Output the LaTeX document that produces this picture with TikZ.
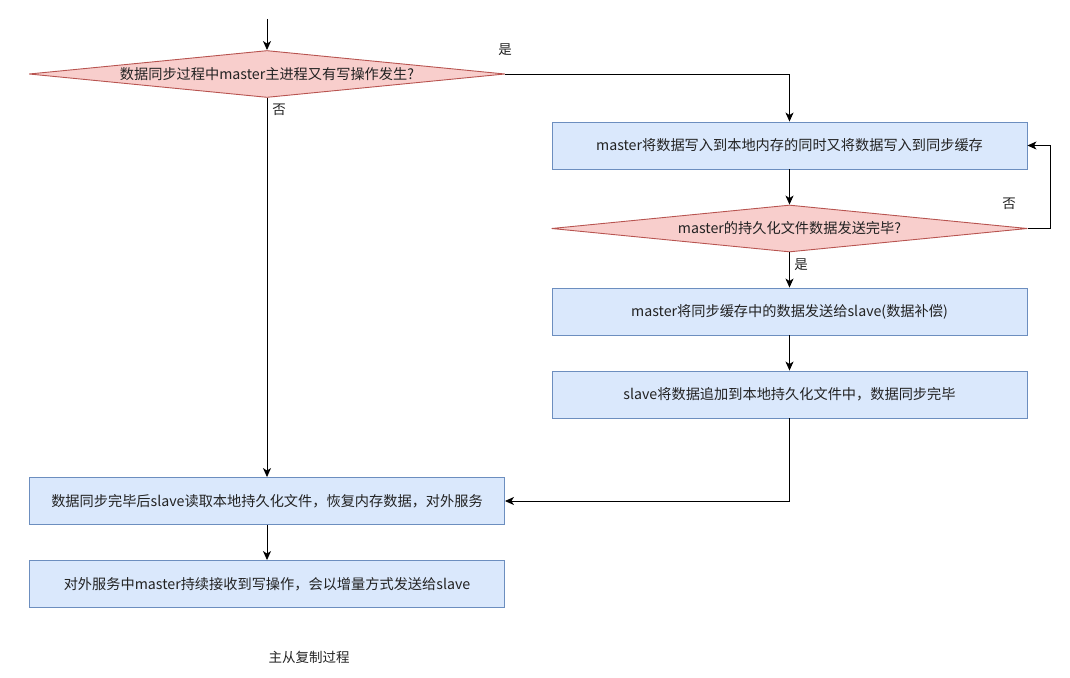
\documentclass[tikz,border=0pt]{standalone}
\usepackage{fontspec}
\setmainfont{Noto Sans CJK SC}
\usetikzlibrary{shapes.geometric,arrows.meta}
\definecolor{bfill}{HTML}{DAE8FC}
\definecolor{bdraw}{HTML}{6C8EBF}
\definecolor{rfill}{HTML}{F8CECC}
\definecolor{rdraw}{HTML}{B85450}
\definecolor{txt}{HTML}{222222}
\tikzset{
  box/.style={draw=bdraw, fill=bfill, line width=0.9pt, minimum width=475pt, minimum height=47pt, inner sep=0pt, font=\fontsize{14.2}{17}\selectfont, text=txt},
  dia/.style={diamond, draw=rdraw, fill=rfill, line width=0.9pt, minimum width=476pt, minimum height=47pt, inner sep=0pt},
  dtext/.style={font=\fontsize{14.2}{17}\selectfont, text=txt, inner sep=0pt},
  lbl/.style={font=\fontsize{13.5}{16}\selectfont, text=txt, inner sep=0pt},
  conn/.style={line width=0.9pt, -{Stealth[length=9pt,width=8pt,inset=2.5pt]}},
}
\begin{document}
\begin{tikzpicture}[x=1pt,y=-1pt]
\useasboundingbox (0,0) rectangle (1070,677);
\coordinate (start) at (267,19);
\node[dia] (d1) at (267,74) {};
\node[dtext] (d1t) at (d1.center) {数据同步过程中master主进程又有写操作发生?};
\node[box] (b1) at (789.5,145.5) {master将数据写入到本地内存的同时又将数据写入到同步缓存};
\node[dia] (d2) at (789.5,228.5) {};
\node[dtext] (d2t) at (d2.center) {master的持久化文件数据发送完毕?};
\node[box] (b2) at (789.5,311.5) {master将同步缓存中的数据发送给slave(数据补偿)};
\node[box] (b3) at (789.5,394.5) {slave将数据追加到本地持久化文件中，数据同步完毕};
\node[box] (b5) at (267,501) {数据同步完毕后slave读取本地持久化文件，恢复内存数据，对外服务};
\node[box] (b6) at (267,584) {对外服务中master持续接收到写操作，会以增量方式发送给slave};
\node[lbl] (cap) at (309,657) {主从复制过程};
\node[lbl] (yes1) at (505,50) {是};
\node[lbl] (no1) at (279,110) {否};
\node[lbl] (no2) at (1009,204) {否};
\node[lbl] (yes2) at (801,265) {是};
\coordinate (c1) at (1050,228.5);
\coordinate (c2) at (1050,145.5);

\draw[conn] (start) -- (d1.north);
\draw[conn] (d1.east) -| (b1.north);
\draw[conn] (d1.south) -- (b5.north);
\draw[conn] (b1.south) -- (d2.north);
\draw[conn] (d2.east) -- (c1) -- (c2) -- (b1.east);
\draw[conn] (d2.south) -- (b2.north);
\draw[conn] (b2.south) -- (b3.north);
\draw[conn] (b3.south) |- (b5.east);
\draw[conn] (b5.south) -- (b6.north);
\end{tikzpicture}
\end{document}
